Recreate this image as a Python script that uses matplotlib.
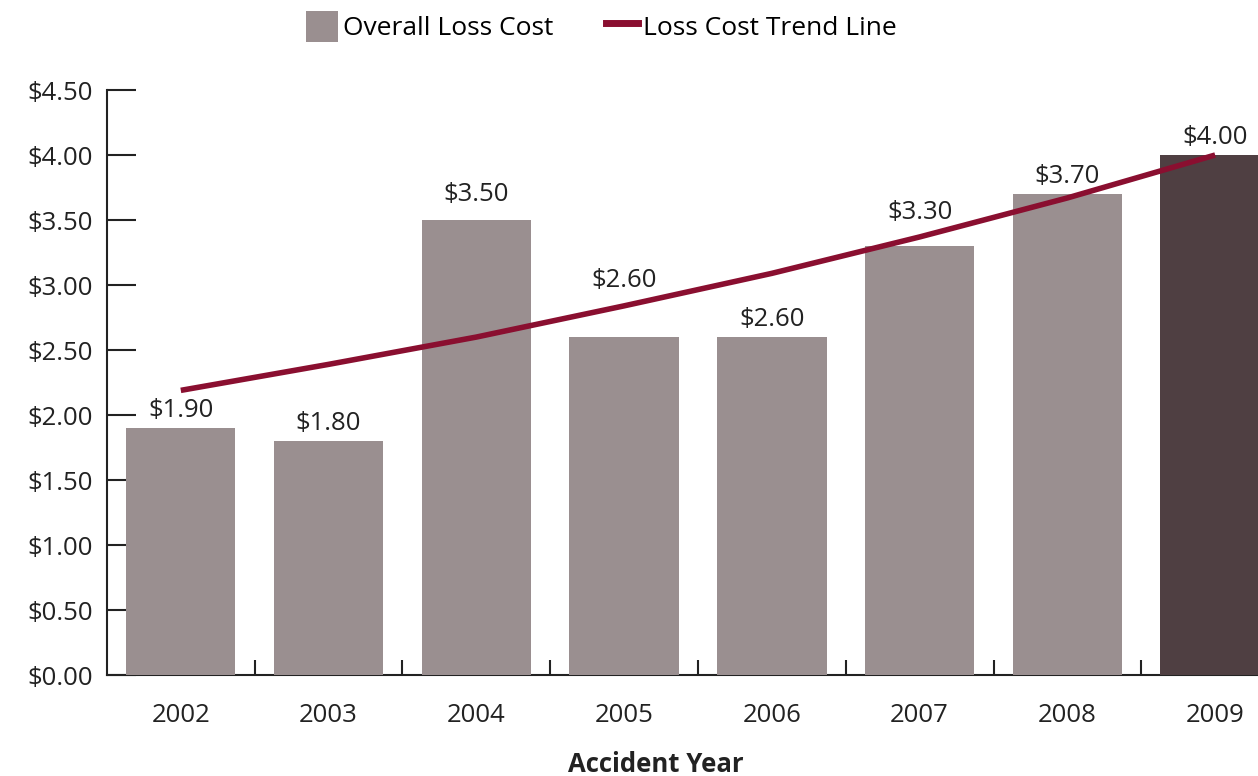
import numpy as np
import matplotlib.pyplot as plt
from matplotlib.patches import Patch
from matplotlib.lines import Line2D

plt.rcParams['font.family'] = ['Open Sans', 'DejaVu Sans']

years = ['2002', '2003', '2004', '2005', '2006', '2007', '2008', '2009']
loss_cost = [1.90, 1.80, 3.50, 2.60, 2.60, 3.30, 3.70, 4.00]
trend = [2.19, 2.39, 2.60, 2.84, 3.09, 3.37, 3.67, 4.00]
# extra lift for labels that would sit on the trend line
label_lift = [0, 0, 0.06, 0.30, 0, 0.12, 0, 0]

bar_col = '#9a8f90'
last_col = '#4f3f42'
line_col = '#8a0f30'
txt_col = '#222222'

fig = plt.figure(figsize=(12.58, 7.76), dpi=100)
ax = fig.add_axes([0.085, 0.130, 0.915, 0.754])

x = np.arange(len(years))
colors = [bar_col] * (len(years) - 1) + [last_col]
ax.bar(x, loss_cost, width=0.74, color=colors, zorder=3)
ax.plot(x, trend, color=line_col, lw=4, zorder=4, solid_capstyle='butt')

# value labels above the bars
for xi, v, lift in zip(x, loss_cost, label_lift):
    ax.text(xi, v + 0.04 + lift, '${:.2f}'.format(v), ha='center', va='bottom',
            fontsize=18.5, color=txt_col, zorder=5)

ax.set_xlim(-0.5, 7.29)
ax.set_ylim(0, 4.5)

yt = np.arange(0, 4.51, 0.5)
ax.set_yticks(yt)
ax.set_yticklabels(['${:.2f}'.format(v) for v in yt])
ax.tick_params(axis='y', direction='in', length=21, width=1.5, labelsize=18.5,
               pad=10, colors=txt_col)

ax.set_xticks(x)
ax.set_xticklabels(years)
ax.set_xticks(x[:-1] + 0.5, minor=True)
ax.tick_params(axis='x', which='major', length=0, labelsize=18.5, pad=20,
               colors=txt_col)
ax.tick_params(axis='x', which='minor', direction='in', length=11, width=1.5,
               color=txt_col)

for s in ['top', 'right']:
    ax.spines[s].set_visible(False)
for s in ['left', 'bottom']:
    ax.spines[s].set_linewidth(1.5)
    ax.spines[s].set_color(txt_col)

ax.set_xlabel('Accident Year', fontsize=18.5, fontweight='bold', color=txt_col)
ax.xaxis.set_label_coords(0.477, -0.13)

handles = [Patch(facecolor=bar_col, edgecolor='none'),
           Line2D([0], [0], color=line_col, lw=5)]
fig.legend(handles, ['Overall Loss Cost', 'Loss Cost Trend Line'],
           loc='center', bbox_to_anchor=(0.478, 0.966), ncol=2, frameon=False,
           fontsize=19, handlelength=1.2, handleheight=1.4, handletextpad=0.2,
           columnspacing=2.0)

fig.savefig('out.png', dpi=100)
